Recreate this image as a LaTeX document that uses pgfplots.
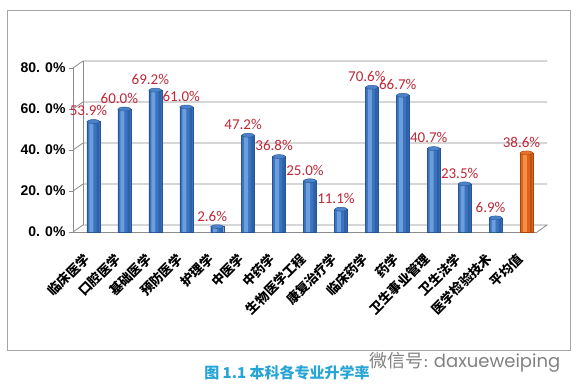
\documentclass[border=0pt]{standalone}
\usepackage{fontspec}
\usepackage{pgfplots}
\usepackage{pgfplotstable}
\pgfplotsset{compat=1.18}
\setmainfont{Carlito}
\newfontfamily\cjk{Noto Sans CJK SC}
\newfontfamily\wm{Poppins}
\newfontfamily\tickf{Liberation Sans}
\definecolor{barmain}{RGB}{58,115,190}
\definecolor{bardark}{RGB}{38,85,150}
\definecolor{barlight}{RGB}{125,172,232}
\definecolor{bartop}{RGB}{75,130,200}
\definecolor{orgmain}{RGB}{222,100,25}
\definecolor{orgdark}{RGB}{170,70,10}
\definecolor{orglight}{RGB}{250,160,90}
\definecolor{orgtop}{RGB}{230,115,40}
\definecolor{lblred}{RGB}{190,40,55}
\definecolor{gridgray}{RGB}{140,140,140}
\definecolor{capblue}{RGB}{40,165,215}

\pgfplotstableread{
x y
0 53.9
1 60.0
2 69.2
3 61.0
4 2.6
5 47.2
6 36.8
7 25.0
8 11.1
9 70.6
10 66.7
11 40.7
12 23.5
13 6.9
}\bluedata
\pgfplotstableread{
x y
14 38.6
}\avgdata

\begin{document}
\begin{tikzpicture}[x=1pt,y=1pt]
\useasboundingbox (0,0) rectangle (584,391);
\fill[white] (0,0) rectangle (584,391);
\draw[gray!70, line width=0.8pt] (7,41) rectangle (570,381);
\begin{axis}[
  at={(73pt,159pt)}, anchor=south west,
  scale only axis, width=464pt, height=164pt,
  xmin=-0.5, xmax=14.5, ymin=0, ymax=80,
  axis x line*=bottom, axis y line*=left,
  axis line style={gridgray, line width=0.8pt, -},
  major tick length=4pt, tick align=outside,
  ytick={0,20,40,60,80},
  yticklabels={0. 0\%,20. 0\%,40. 0\%,60. 0\%,80. 0\%},
  yticklabel style={font=\tickf\bfseries\fontsize{14}{14}\selectfont, xshift=0pt},
  ytick style={draw=gridgray, line width=0.8pt},
  xtick={0,...,14},
  xticklabels={临床医学,口腔医学,基础医学,预防医学,护理学,中医学,中药学,生物医学工程,康复治疗学,临床药学,药学,卫生事业管理,卫生法学,医学检验技术,平均值},
  xticklabel style={font=\cjk\bfseries\fontsize{13}{13}\selectfont, xshift=1pt, yshift=-18pt, rotate=45, anchor=east},
  xtick style={draw=none},
  extra x ticks={-0.5,0.5,...,14.5},
  extra x tick labels={},
  extra x tick style={tick style={draw=gridgray, line width=0.8pt}},
  clip=false,
  lbl/.style={nodes near coords={\pgfmathprintnumber[fixed,fixed zerofill,precision=1,assume math mode=true]{\pgfplotspointmeta}\%},
    nodes near coords style={font=\fontsize{15}{15}\selectfont, color=lblred, anchor=south, yshift=2pt}},
]
% 3D wall, floor and gridlines
\draw[gridgray, line width=0.8pt] ([shift={(10pt,7pt)}]axis cs:-0.5,0) -- ([shift={(10pt,7pt)}]axis cs:-0.5,80);
\draw[gridgray, line width=0.8pt] (axis cs:-0.5,0) -- ++(10pt,7pt) -- ([shift={(10pt,7pt)}]axis cs:14.5,0) -- (axis cs:14.5,0);
\draw[gridgray, line width=0.8pt] (axis cs:-0.5,20) -- ++(10pt,7pt) -- ([shift={(10pt,7pt)}]axis cs:14.5,20);
\draw[gridgray, line width=0.8pt] (axis cs:-0.5,40) -- ++(10pt,7pt) -- ([shift={(10pt,7pt)}]axis cs:14.5,40);
\draw[gridgray, line width=0.8pt] (axis cs:-0.5,60) -- ++(10pt,7pt) -- ([shift={(10pt,7pt)}]axis cs:14.5,60);
\draw[gridgray, line width=0.8pt] (axis cs:-0.5,80) -- ++(10pt,7pt) -- ([shift={(10pt,7pt)}]axis cs:14.5,80);

% blue bars
\addplot[ybar, bar width=13pt, bar shift=5pt, fill=barmain, draw=bardark, line width=0.4pt, lbl]
  table[x=x,y=y] {\bluedata};
\addplot[ybar, bar width=4pt, bar shift=3pt, fill=barlight, draw=none, fill opacity=0.75]
  table[x=x,y=y] {\bluedata};
\addplot[ybar, bar width=2.5pt, bar shift=9.5pt, fill=bardark, draw=none, fill opacity=0.6]
  table[x=x,y=y] {\bluedata};
% average bar
\addplot[ybar, bar width=13pt, bar shift=5pt, fill=orgmain, draw=orgdark, line width=0.4pt, lbl]
  table[x=x,y=y] {\avgdata};
\addplot[ybar, bar width=4pt, bar shift=3pt, fill=orglight, draw=none, fill opacity=0.75]
  table[x=x,y=y] {\avgdata};
\addplot[ybar, bar width=2.5pt, bar shift=9.5pt, fill=orgdark, draw=none, fill opacity=0.6]
  table[x=x,y=y] {\avgdata};
% cylinder tops
\addplot[only marks, mark=*, mark size=6.5pt, xshift=5pt,
  mark options={yscale=0.3, fill=bartop, draw=bardark, line width=0.4pt}]
  table[x=x,y=y] {\bluedata};
\addplot[only marks, mark=*, mark size=6.5pt, xshift=5pt,
  mark options={yscale=0.3, fill=orgtop, draw=orgdark, line width=0.4pt}]
  table[x=x,y=y] {\avgdata};
\end{axis}
\node[font=\cjk\bfseries\fontsize{15}{15}\selectfont, text=capblue] at (287,18) {图 1.1 本科各专业升学率};
\node[font=\fontsize{18}{18}\selectfont, text=gray!85!black, opacity=0.85] at (465,29) {{\cjk 微信号}: {\wm daxueweiping}};
\end{tikzpicture}
\end{document}
